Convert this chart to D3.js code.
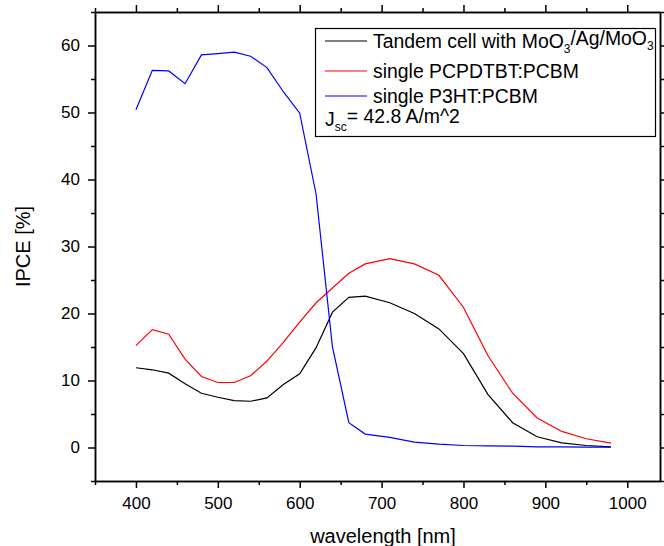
<!DOCTYPE html>
<html lang="en">
<head>
<meta charset="UTF-8" />
<title>IPCE spectra</title>
<script src="https://d3js.org/d3.v7.min.js"></script>
<style>
  body { margin: 0; background: #fff; }
  svg { display: block; font-family: "Liberation Sans", Arial, sans-serif; }
  .axis path, .axis line { stroke: #000; stroke-width: 1.5; }
  .axis text { font-size: 17px; fill: #000; font-family: "Liberation Sans", Arial, sans-serif; }
</style>
</head>
<body>
<div id="chart"></div>
<script>
const wavelengths = [400, 420, 440, 460, 480, 500, 520, 540, 560, 580, 600, 620, 640, 660, 680,
                     710, 740, 770, 800, 830, 860, 890, 920, 950, 980];
const tandem  = [11.9, 11.6, 11.1, 9.5, 8.1, 7.5, 7.0, 6.9, 7.4, 9.4, 11.0, 14.9, 20.2, 22.4, 22.6,
                 21.6, 20.0, 17.7, 14.0, 7.9, 3.7, 1.6, 0.7, 0.3, 0.1];
const pcpdtbt = [15.2, 17.6, 16.9, 13.2, 10.6, 9.7, 9.7, 10.7, 12.9, 15.7, 18.7, 21.6, 23.8, 26.0, 27.4,
                 28.2, 27.4, 25.7, 20.9, 13.7, 8.1, 4.4, 2.4, 1.3, 0.65];
const p3ht    = [50.4, 56.3, 56.2, 54.3, 58.6, 58.8, 59.0, 58.4, 56.7, 53.1, 49.9, 37.8, 15.0, 3.7, 2.0,
                 1.5, 0.8, 0.5, 0.3, 0.25, 0.2, 0.1, 0.1, 0.05, 0.05];

const seriesNames = ["Tandem cell with MoO_3/Ag/MoO_3", "single PCPDTBT:PCBM", "single P3HT:PCBM"];
const seriesColors = ["#000000", "#ff0000", "#0000ff"];
const note = "J_{sc}= 42.8 A/m^2";

const xMajor = [400, 500, 600, 700, 800, 900, 1000];
const yMajor = [0, 10, 20, 30, 40, 50, 60];

const width = 664, height = 546;
const margin = { left: 95, right: 4, top: 12, bottom: 65 };

const svg = d3.select("#chart").append("svg")
  .attr("width", width).attr("height", height);

const x = d3.scaleLinear().domain([350, 1040]).range([margin.left, width - margin.right]);
const y = d3.scaleLinear().domain([-5, 65]).range([height - margin.bottom, margin.top]);

const xMinor = d3.range(350, 1041, 50).filter(v => !xMajor.includes(v));
const yMinor = d3.range(-5, 66, 5).filter(v => !yMajor.includes(v));

const x0 = x.range()[0], x1 = x.range()[1];
const y0 = y.range()[0], y1 = y.range()[1];

// minor ticks (no labels)
function minor(axisFn, vals) {
  return axisFn.tickValues(vals).tickSize(4).tickSizeOuter(0).tickFormat("");
}

// bottom
svg.append("g").attr("class", "axis").attr("transform", `translate(0,${y0})`)
  .call(d3.axisBottom(x).tickValues(xMajor).tickSize(7).tickSizeOuter(0).tickPadding(9)
    .tickFormat(d3.format("d")));
svg.append("g").attr("class", "axis").attr("transform", `translate(0,${y0})`)
  .call(minor(d3.axisBottom(x), xMinor));
// top
svg.append("g").attr("class", "axis").attr("transform", `translate(0,${y1})`)
  .call(d3.axisTop(x).tickValues(xMajor).tickSize(7).tickSizeOuter(0).tickFormat(""));
svg.append("g").attr("class", "axis").attr("transform", `translate(0,${y1})`)
  .call(minor(d3.axisTop(x), xMinor));
// left
svg.append("g").attr("class", "axis").attr("transform", `translate(${x0},0)`)
  .call(d3.axisLeft(y).tickValues(yMajor).tickSize(7).tickSizeOuter(0).tickPadding(8));
svg.append("g").attr("class", "axis").attr("transform", `translate(${x0},0)`)
  .call(minor(d3.axisLeft(y), yMinor));
// right
svg.append("g").attr("class", "axis").attr("transform", `translate(${x1},0)`)
  .call(d3.axisRight(y).tickValues(yMajor).tickSize(7).tickSizeOuter(0).tickFormat(""));
svg.append("g").attr("class", "axis").attr("transform", `translate(${x1},0)`)
  .call(minor(d3.axisRight(y), yMinor));

// axis titles
svg.append("text")
  .attr("x", 383).attr("y", 543)
  .attr("text-anchor", "middle").attr("font-size", 20)
  .text("wavelength [nm]");
svg.append("text")
  .attr("transform", `translate(30,${(y0 + y1) / 2}) rotate(-90)`)
  .attr("text-anchor", "middle").attr("font-size", 20)
  .text("IPCE [%]");

// curves
const series = [tandem, pcpdtbt, p3ht];
const line = d3.line().x((d, i) => x(wavelengths[i])).y(d => y(d));
svg.selectAll("path.curve").data(series).enter().append("path")
  .attr("class", "curve")
  .attr("fill", "none")
  .attr("stroke", (d, i) => seriesColors[i])
  .attr("stroke-width", 1.2)
  .attr("d", line);

// text with _x or _{xx} subscripts
function richText(sel, str, size) {
  const parts = str.split(/_\{([^}]*)\}|_(\w)/);
  let sub = false;
  parts.forEach((p, i) => {
    if (i % 3 === 0) {
      if (p) sel.append("tspan").attr("dy", sub ? "-0.45em" : 0).text(p);
      sub = false;
    } else if (p !== undefined) {
      sel.append("tspan").attr("dy", "0.45em").attr("font-size", size * 0.62).text(p);
      sub = true;
    }
  });
}

// legend
const lg = svg.append("g");
lg.append("rect")
  .attr("x", 315.5).attr("y", 28.5).attr("width", 340).attr("height", 108)
  .attr("fill", "#fff").attr("stroke", "#000").attr("stroke-width", 1.2);

const rowY = [41, 71, 96];
const rowBase = [48, 78, 103];
const fs = 19.4;
seriesNames.forEach((name, i) => {
  lg.append("line")
    .attr("x1", 325).attr("x2", 367)
    .attr("y1", rowY[i]).attr("y2", rowY[i])
    .attr("stroke", seriesColors[i]).attr("stroke-width", 1.2);
  const t = lg.append("text").attr("x", 373).attr("y", rowBase[i]).attr("font-size", fs);
  richText(t, name, fs);
});
const nt = lg.append("text").attr("x", 325).attr("y", 126).attr("font-size", fs);
richText(nt, note, fs);
</script>
</body>
</html>
